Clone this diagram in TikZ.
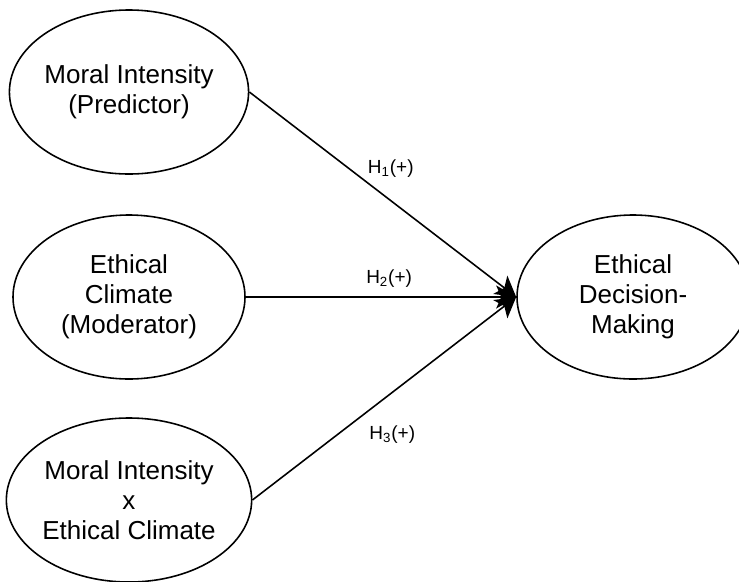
\documentclass[tikz,border=0pt]{standalone}
\usepackage{fontspec}
\setmainfont{Liberation Sans}
\usepackage{tikz}
\usetikzlibrary{shapes.geometric,arrows.meta}

\begin{document}
\begin{tikzpicture}[
  font=\fontsize{14.8}{17.1}\selectfont,
  var/.style={draw, ellipse, line width=0.9pt, align=center, inner sep=0pt, minimum width=4.64cm, minimum height=3.28cm},
  arr/.style={-{Stealth[length=0.4cm, width=0.46cm, inset=0.1cm]}, line width=0.9pt},
  hyp/.style={font=\fontsize{10.8}{13}\selectfont, inner sep=0pt},
]
\useasboundingbox (0,0) rectangle (14.78,-11.62);
% ================= CONSTRUCTS =================
\node[var] (mi) at (2.58,-1.84) {Moral Intensity\\(Predictor)};
\node[var] (ec) at (2.58,-5.94) {Ethical\\Climate\\(Moderator)};
\node[var] (mix) at (2.58,-10.0) {Moral Intensity\\x\\Ethical Climate};
\node[var] (edm) at (12.66,-5.94) {Ethical\\Decision-\\Making};
% ================= PATHS =================
\draw[arr] (mi.east) -- node[hyp, pos=0.53, above=0.44cm]{H\textsubscript{1}(+)} (edm.west);
\draw[arr] (ec.east) -- node[hyp, pos=0.53, above=0.18cm]{H\textsubscript{2}(+)} (edm.west);
\draw[arr] (mix.east) -- node[hyp, pos=0.53, below=0.66cm]{H\textsubscript{3}(+)} (edm.west);
\end{tikzpicture}
\end{document}
